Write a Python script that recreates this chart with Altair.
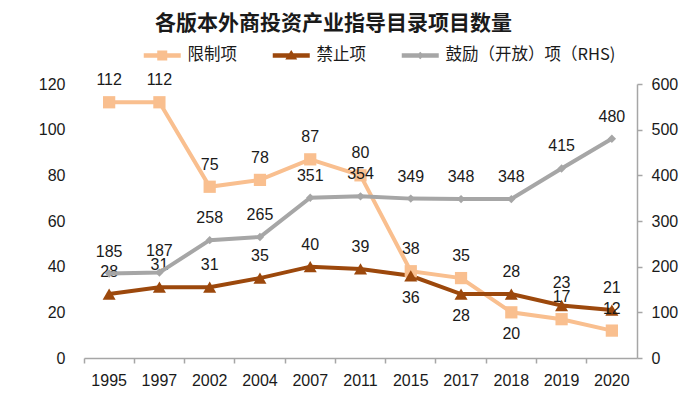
import altair as alt
import pandas as pd

years = ["1995", "1997", "2002", "2004", "2007", "2011", "2015", "2017", "2018", "2019", "2020"]
restricted = [112, 112, 75, 78, 87, 80, 38, 35, 20, 17, 12]
prohibited = [28, 31, 31, 35, 40, 39, 36, 28, 28, 23, 21]
encouraged = [185, 187, 258, 265, 351, 354, 349, 348, 348, 415, 480]
restricted_pos = ["above"] * 8 + ["below"] + ["above"] * 2
prohibited_pos = ["above"] * 6 + ["below", "below"] + ["above"] * 3
encouraged_pos = ["above"] * 11

series = ["限制项", "禁止项", "鼓励（开放）项（RHS)"]
colors = ["#F9BF8F", "#9C480C", "#A6A6A6"]

rows = []
for name, vals, pos in [(series[0], restricted, restricted_pos), (series[1], prohibited, prohibited_pos)]:
    for y, v, p in zip(years, vals, pos):
        rows.append({"year": y, "series": name, "value": v, "pos": p})
df_left = pd.DataFrame(rows)
df_right = pd.DataFrame({"year": years, "series": series[2], "value": encouraged, "pos": encouraged_pos})
df_all = pd.concat([df_left, df_right], ignore_index=True)

FONT = "Liberation Sans"
CJK = "Noto Sans CJK SC"
TXT = "#1a1a1a"
GREY = "#A6A6A6"

x_enc = alt.X("year:N", sort=years, title=None,
              scale=alt.Scale(type="band", paddingInner=0, paddingOuter=0),
              axis=alt.Axis(labelAngle=0, bandPosition=0, domainColor=GREY,
                            tickColor=GREY, tickSize=5, labelPadding=9, labelFontSize=16,
                            labelFont=FONT, labelColor=TXT, domainWidth=1.5, tickWidth=1.5))
color_enc = alt.Color("series:N", scale=alt.Scale(domain=series, range=colors), legend=None)

yl = alt.Y("value:Q", title=None, scale=alt.Scale(domain=[0, 120]),
           axis=alt.Axis(orient="left", values=list(range(0, 121, 20)), domain=False, ticks=False, grid=False,
                         labelFontSize=16, labelFont=FONT, labelColor=TXT, labelPadding=19))
yr = alt.Y("value:Q", title=None, scale=alt.Scale(domain=[0, 600]),
           axis=alt.Axis(orient="right", values=list(range(0, 601, 100)), domain=True, domainColor=GREY,
                         domainWidth=1.5, ticks=True, tickColor=GREY, tickSize=5, tickWidth=1.5, grid=False,
                         labelFontSize=16, labelFont=FONT, labelColor=TXT, labelPadding=9))


def series_layers(df, y, names, shapes, sizes):
    base = alt.Chart(df)
    layers = [base.mark_line(strokeWidth=4).encode(x=x_enc, y=y, color=color_enc, detail="series:N")]
    for n, s, sz in zip(names, shapes, sizes):
        layers.append(base.transform_filter(alt.datum.series == n)
                      .mark_point(shape=s, filled=True, opacity=1, size=sz)
                      .encode(x=x_enc, y=y, color=color_enc))
    layers.append(base.transform_filter(alt.datum.pos == "above")
                  .mark_text(dy=-22, fontSize=16, font=FONT, color=TXT)
                  .encode(x=x_enc, y=y, text="value:Q"))
    layers.append(base.transform_filter(alt.datum.pos == "below")
                  .mark_text(dy=22, fontSize=16, font=FONT, color=TXT)
                  .encode(x=x_enc, y=y, text="value:Q"))
    return layers


leg_paths = [
    "M-3.7,-0.45H3.7V0.45H-3.7Z M-1,-1H1V1H-1Z",
    "M-3.7,-0.45H3.7V0.45H-3.7Z M0,-1.1L1.2,0.8L-1.2,0.8Z",
    "M-3.7,-0.45H3.7V0.45H-3.7Z M0,-0.75L0.75,0L0,0.75L-0.75,0Z",
]
leg = alt.Legend(title=None, orient="none", direction="horizontal",
                 legendX=70, legendY=-37, labelFontSize=16.5, labelFont=CJK,
                 labelColor=TXT, symbolSize=100, symbolStrokeWidth=0, labelLimit=400,
                 labelOffset=17, columnPadding=35, symbolOpacity=1)
legend_layer = alt.Chart(df_all).mark_point(filled=True, size=0).encode(
    x=x_enc, y=alt.Y("value:Q", axis=None, scale=alt.Scale(domain=[0, 600])),
    color=alt.Color("series:N", scale=alt.Scale(domain=series, range=colors), legend=leg),
    shape=alt.Shape("series:N", scale=alt.Scale(domain=series, range=leg_paths), legend=leg),
)

left = alt.layer(*series_layers(df_left, yl, series[:2], ["square", "triangle-up"], [150, 170]))
right = alt.layer(*series_layers(df_right, yr, series[2:], ["diamond"], [70]))

chart = alt.layer(legend_layer, left, right).resolve_scale(y="independent").properties(
    width=553, height=274,
    title=alt.TitleParams("各版本外商投资产业指导目录项目数量", anchor="middle", fontSize=21,
                          font=CJK, fontWeight="bold", color="#1a1a1a", offset=13, dx=-27),
    autosize=alt.AutoSizeParams(type="none"),
    padding={"left": 76, "top": 76, "right": 55, "bottom": 33},
).configure_view(stroke=None)

chart.save("out.html", embed_options={"renderer": "svg", "actions": False})
